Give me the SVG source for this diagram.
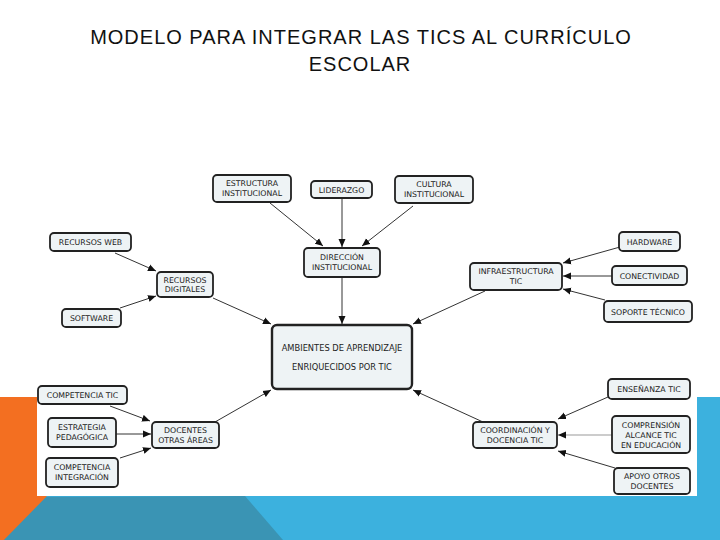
<svg xmlns="http://www.w3.org/2000/svg" width="720" height="540" viewBox="0 0 720 540">
<defs>
<marker id="ah" markerUnits="userSpaceOnUse" markerWidth="9" markerHeight="8" refX="8" refY="4" orient="auto"><path d="M0,0.5 L8,4 L0,7.5 z" fill="#111"/></marker>
<style>
.title{font-family:"Liberation Sans",Arial,sans-serif;font-size:20px;fill:#111;letter-spacing:1px;text-anchor:middle}
.n rect{fill:#eef3f5;stroke:#222;stroke-width:1.8}
.n text{font-family:"DejaVu Sans",Verdana,sans-serif;font-size:7.8px;fill:#222;text-anchor:middle}
.c line{stroke:#333;stroke-width:1;marker-end:url(#ah)}
</style>
</defs>
<rect x="0" y="0" width="720" height="540" fill="#ffffff"/>
<g id="background">
<rect x="0" y="397" width="720" height="143" fill="#3cb1de"/>
<polygon points="0,497 245,496 283,540 0,540" fill="#3a94b4"/>
<polygon points="0,397 60,397 60,496 47,496 0,544" fill="#f36f21"/>
<rect x="37" y="140" width="660" height="356" fill="#ffffff"/>
</g>
<g id="title">
<text class="title" x="361" y="44">MODELO PARA INTEGRAR LAS TICS AL CURRÍCULO</text>
<text class="title" x="360" y="71">ESCOLAR</text>
</g>
<g id="connectors" class="c">
<line x1="270" y1="203" x2="323" y2="246"/>
<line x1="342" y1="198" x2="342" y2="247"/>
<line x1="413" y1="206" x2="362" y2="246"/>
<line x1="342" y1="277" x2="342" y2="324"/>
<line x1="115" y1="253" x2="156" y2="271"/>
<line x1="120" y1="308" x2="156" y2="296"/>
<line x1="213" y1="298" x2="271" y2="324"/>
<line x1="620" y1="247" x2="563" y2="263"/>
<line x1="612" y1="276" x2="563" y2="276"/>
<line x1="605" y1="300" x2="563" y2="289"/>
<line x1="485" y1="291" x2="413" y2="324"/>
<line x1="110" y1="406" x2="150" y2="421"/>
<line x1="116" y1="434" x2="151" y2="434"/>
<line x1="120" y1="458" x2="151" y2="448"/>
<line x1="215" y1="422" x2="271" y2="390"/>
<line x1="608" y1="397" x2="558" y2="419"/>
<line x1="612" y1="435" x2="558" y2="435" style="stroke:#999"/>
<line x1="615" y1="468" x2="558" y2="451"/>
<line x1="483" y1="422" x2="413" y2="390"/>
</g>
<g id="n-estructura" class="n"><rect x="213" y="175" width="78" height="27" rx="4"/><text x="252" y="186">ESTRUCTURA</text><text x="252" y="196">INSTITUCIONAL</text></g>
<g id="n-liderazgo" class="n"><rect x="311" y="181" width="61" height="17" rx="4"/><text x="341.5" y="192.5">LIDERAZGO</text></g>
<g id="n-cultura" class="n"><rect x="395" y="176" width="78" height="27" rx="4"/><text x="434" y="187">CULTURA</text><text x="434" y="197">INSTITUCIONAL</text></g>
<g id="n-direccion" class="n"><rect x="304" y="248" width="76" height="29" rx="4"/><text x="342" y="260">DIRECCIÓN</text><text x="342" y="270">INSTITUCIONAL</text></g>
<g id="n-recursosweb" class="n"><rect x="50" y="233" width="81" height="18" rx="4"/><text x="90.5" y="245">RECURSOS WEB</text></g>
<g id="n-recursosdig" class="n"><rect x="157" y="272" width="56" height="25" rx="4"/><text x="185" y="283">RECURSOS</text><text x="185" y="292">DIGITALES</text></g>
<g id="n-software" class="n"><rect x="62" y="309" width="59" height="18" rx="4"/><text x="91.5" y="321">SOFTWARE</text></g>
<g id="n-hardware" class="n"><rect x="619" y="232" width="61" height="19" rx="4"/><text x="649.5" y="244.5">HARDWARE</text></g>
<g id="n-conectividad" class="n"><rect x="612" y="266" width="75" height="19" rx="4"/><text x="649.5" y="278.5">CONECTIVIDAD</text></g>
<g id="n-soporte" class="n"><rect x="604" y="301" width="88" height="21" rx="4"/><text x="648" y="314.5">SOPORTE TÉCNICO</text></g>
<g id="n-infra" class="n"><rect x="470" y="263" width="92" height="27" rx="4"/><text x="516" y="274">INFRAESTRUCTURA</text><text x="516" y="284">TIC</text></g>
<g id="n-ambientes" class="n"><rect x="272" y="325" width="140" height="64" rx="5" style="stroke-width:2.4"/><text x="342" y="351" style="font-size:8.3px">AMBIENTES DE APRENDIZAJE</text><text x="342" y="370" style="font-size:8.3px">ENRIQUECIDOS POR TIC</text></g>
<g id="n-competenciatic" class="n"><rect x="38" y="386" width="89" height="18" rx="4"/><text x="82.5" y="398">COMPETENCIA TIC</text></g>
<g id="n-estrategia" class="n"><rect x="48" y="418" width="68" height="29" rx="4"/><text x="82" y="430">ESTRATEGIA</text><text x="82" y="440">PEDAGÓGICA</text></g>
<g id="n-competenciaint" class="n"><rect x="46" y="458" width="72" height="29" rx="4"/><text x="82" y="470">COMPETENCIA</text><text x="82" y="480">INTEGRACIÓN</text></g>
<g id="n-docentes" class="n"><rect x="152" y="422" width="67" height="26" rx="4"/><text x="185.5" y="433">DOCENTES</text><text x="185.5" y="443">OTRAS ÁREAS</text></g>
<g id="n-ensenanza" class="n"><rect x="608" y="379" width="82" height="20" rx="4"/><text x="649" y="392">ENSEÑANZA TIC</text></g>
<g id="n-comprension" class="n"><rect x="612" y="416" width="78" height="37" rx="4"/><text x="651" y="428">COMPRENSIÓN</text><text x="651" y="438">ALCANCE TIC</text><text x="651" y="448">EN EDUCACIÓN</text></g>
<g id="n-apoyo" class="n"><rect x="614" y="468" width="76" height="26" rx="4"/><text x="652" y="479">APOYO OTROS</text><text x="652" y="489">DOCENTES</text></g>
<g id="n-coordinacion" class="n"><rect x="473" y="422" width="84" height="26" rx="4"/><text x="515" y="433">COORDINACIÓN Y</text><text x="515" y="443">DOCENCIA TIC</text></g>
</svg>
